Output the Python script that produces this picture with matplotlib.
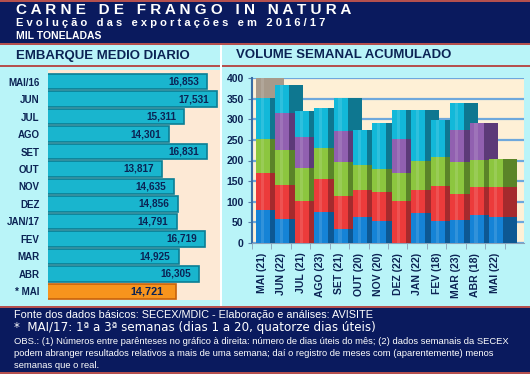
import matplotlib
matplotlib.use("Agg")
import matplotlib.pyplot as plt
from matplotlib.patches import Rectangle
import numpy as np

# left chart: daily average shipments (t)
months_left = ["MAI/16", "JUN", "JUL", "AGO", "SET", "OUT", "NOV", "DEZ",
               "JAN/17", "FEV", "MAR", "ABR", "* MAI"]
daily = [16853, 17531, 15311, 14301, 16831, 13817, 14635, 14856,
         14791, 16719, 14925, 16305, 14721]

# right chart: weekly volumes stacked (thousand t)
months_right = ["MAI (21)", "JUN (22)", "JUL (21)", "AGO (23)", "SET (21)",
                "OUT (20)", "NOV (20)", "DEZ (22)", "JAN (22)", "FEV (18)",
                "MAR (23)", "ABR (18)", "MAI (22)"]
week1 = [81, 57, 0, 74, 34, 62, 54, 0, 72, 54, 56, 68, 64]
week2 = [89, 84, 101, 82, 81, 67, 70, 102, 56, 83, 64, 67, 71]
week3 = [82, 85, 82, 74, 81, 60, 55, 68, 71, 72, 76, 66, 68]
week4 = [0, 89, 74, 0, 76, 0, 0, 82, 0, 0, 78, 89, 0]
week5 = [99, 69, 62, 97, 79, 86, 111, 70, 123, 89, 66, 0, 0]
week6 = [55, 0, 0, 0, 0, 0, 0, 0, 0, 0, 0, 0, 0]

NAVY = "#0a1a5e"
CYAN_BG = "#b9f4f8"
RED_LINE = "#b5504e"
TEXT = "#0b2354"

W, H = 530, 374


def fx(px):
    return px / W


def fy(py):
    return 1 - py / H


def band(x0, y0, x1, y1, color):
    fig.add_artist(Rectangle((fx(x0), fy(y1)), fx(x1) - fx(x0), fy(y0) - fy(y1),
                             transform=fig.transFigure, color=color, lw=0, zorder=0))


fig = plt.figure(figsize=(5.3, 3.74), dpi=100)
fig.patch.set_facecolor(CYAN_BG)

# header / footer bands
band(0, 0, W, 1.5, RED_LINE)
band(0, 2, W, 43, NAVY)
band(0, 43, W, 45, RED_LINE)
band(0, 65, W, 67, RED_LINE)
band(220, 45, 222, 306, "white")
band(0, 306, W, 308, RED_LINE)
band(0, 308, W, 372, NAVY)
band(0, 372, W, 374, RED_LINE)

fig.text(fx(16), fy(10), "C A R N E   D E   F R A N G O   I N   N A T U R A",
         color="white", fontsize=11, fontweight="bold", family="Liberation Sans", va="center")
fig.text(fx(16), fy(22.5), "E v o l u ç ã o   d a s   e x p o r t a ç õ e s   e m   2 0 1 6 / 1 7",
         color="white", fontsize=8, fontweight="bold", family="Liberation Sans", va="center")
fig.text(fx(16), fy(36), "MIL TONELADAS", color="white", fontsize=7.5,
         fontweight="bold", family="Liberation Sans", va="center")
fig.text(fx(16), fy(55.5), "EMBARQUE MEDIO DIARIO", color=TEXT, fontsize=9.5,
         fontweight="bold", family="Liberation Sans", va="center")
fig.text(fx(236), fy(55.5), "VOLUME SEMANAL ACUMULADO", color=TEXT, fontsize=9.5,
         fontweight="bold", family="Liberation Sans", va="center")

# footer text
fig.text(fx(14), fy(315.5), "Fonte dos dados básicos: SECEX/MDIC - Elaboração e análises: AVISITE",
         color="white", fontsize=7.8, family="Liberation Sans", va="center")
fig.text(fx(14), fy(328), "*  MAI/17: 1ª a 3ª semanas (dias 1 a 20, quatorze dias úteis)",
         color="white", fontsize=8.6, family="DejaVu Sans", va="center")
obs = ["OBS.: (1) Números entre parênteses no gráfico à direita: número de dias úteis do mês; (2) dados semanais da SECEX",
       "podem abranger resultados relativos a mais de uma semana; daí o registro de meses com (aparentemente) menos",
       "semanas que o real."]
for k, line in enumerate(obs):
    fig.text(fx(14), fy(341 + 12.3 * k), line, color="white", fontsize=6.75,
             family="Liberation Sans", va="center")

# ---- left chart ----
ax1 = fig.add_axes([fx(48), fy(300), fx(220) - fx(48), fy(70) - fy(300)])
ax1.set_facecolor("#fde9d5")
ypos = np.arange(len(daily))
colors = ["#19b5ce"] * (len(daily) - 1) + ["#f7941d"]
edges = ["#0a7e95"] * (len(daily) - 1) + ["#c7620c"]
ax1.barh(ypos, daily, height=0.88, color=colors, edgecolor=edges, linewidth=1.2, zorder=2)
ax1.set_xlim(6180, 17700)
ax1.set_ylim(12.49, -0.66)
ax1.set_yticks(ypos)
ax1.set_yticklabels(months_left, fontsize=7, fontweight="bold", color=TEXT, family="Liberation Sans")
ax1.tick_params(axis="y", length=0, pad=6)
ax1.set_xticks([])
for s in ax1.spines.values():
    s.set_visible(False)
for i, v in enumerate(daily):
    last = i == len(daily) - 1
    ax1.annotate(f"{v:,}", (v, i), xytext=(-9 if last else -6, 0), textcoords="offset points",
                 ha="right", va="center", fontsize=7.8 if last else 7.2, fontweight="bold",
                 color=TEXT, family="Liberation Sans", zorder=3)

# ---- right chart ----
ax2 = fig.add_axes([fx(252), fy(243), fx(524) - fx(252), fy(78) - fy(243)])
ax2.set_facecolor("#fef0d6")
ax2.set_xlim(0, 14)
ax2.set_ylim(0, 400)

series = [week1, week2, week3, week4, week5, week6]
front = ["#1583d6", "#ec3b3b", "#8cc63f", "#9160b0", "#12b8d9", "#a79a8b"]
side = ["#0d5893", "#a52a2d", "#5a8428", "#5c3a78", "#0e7790", "#a79a8b"]

x = np.arange(len(months_right))
for i in x:
    bottom = 0
    for vals, cf, cs in zip(series, front, side):
        v = vals[i]
        if v > 0:
            z = 3 + i * 0.1
            ax2.bar(i + 0.2, v, width=0.72, bottom=bottom, align="edge", color=cf, lw=0, zorder=z)
            ax2.bar(i + 0.45, v, width=0.16, bottom=bottom, align="edge", color="white",
                    alpha=0.12, lw=0, zorder=z + 0.01)
            ax2.bar(i + 0.92, v, width=0.72, bottom=bottom, align="edge", color=cs, lw=0, zorder=z)
        bottom += v

ax2.set_yticks(np.arange(0, 401, 50))
ax2.yaxis.grid(True, color="#6ea8dc", lw=1.6, zorder=1)
ax2.set_axisbelow(True)
ax2.tick_params(axis="y", labelsize=7.5, labelcolor=TEXT, length=3, color="#5b7fa8", pad=3)
for lab in ax2.get_yticklabels():
    lab.set_fontweight("bold")
    lab.set_family("Liberation Sans")
ax2.set_xticks(x + 0.5)
ax2.set_xticklabels(months_right, rotation=90, fontsize=7.5, fontweight="bold",
                    color=TEXT, family="Liberation Sans")
ax2.set_xticks(np.arange(0, 14), minor=True)
ax2.tick_params(axis="x", which="major", length=0, pad=7)
ax2.tick_params(axis="x", which="minor", length=4, color="#8aa0b8")
for k in ["top", "right"]:
    ax2.spines[k].set_visible(False)
ax2.spines["left"].set_color("#3a6ea5")
ax2.spines["left"].set_linewidth(1.5)
ax2.spines["bottom"].set_color("#8aa0b8")

fig.savefig("out.png", dpi=100, facecolor=fig.get_facecolor())
